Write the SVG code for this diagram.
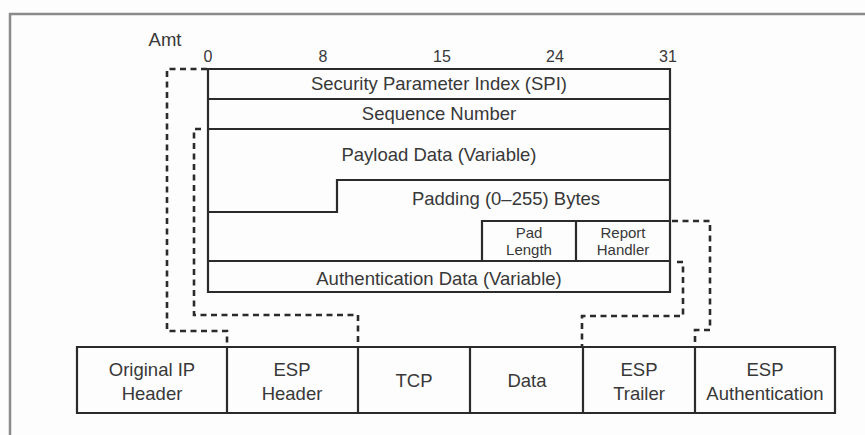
<svg xmlns="http://www.w3.org/2000/svg" width="865" height="435" viewBox="0 0 865 435">
<style>
.ln{fill:none;stroke:#2b2b2b;stroke-width:2.2}
.fr{fill:none;stroke:#8a8a8a;stroke-width:2.5}
.dash{fill:none;stroke:#2b2b2b;stroke-width:2.6;stroke-dasharray:6 4.5}
text{font-family:"Liberation Sans",Arial,sans-serif;fill:#383838;text-anchor:middle}
.t{font-size:18.5px}
.s{font-size:15px}
.n{font-size:16px}
</style>
<rect width="865" height="435" fill="#fdfdfd"/>
<path class="fr" d="M10,435 V14 H865"/>
<g id="ruler">
<text class="t" x="165" y="46">Amt</text>
<text class="n" x="208" y="62">0</text>
<text class="n" x="323" y="62">8</text>
<text class="n" x="442" y="62">15</text>
<text class="n" x="555" y="62">24</text>
<text class="n" x="668" y="62">31</text>
</g>
<g id="esp-format">
<path class="ln" d="M208,69 H670 V292 H208 Z M208,99 H670 M208,129 H670 M208,212 H337 V180 H670 M482,261 V221 H670 M576,221 V261 M208,261 H670"/>
<text class="t" x="439" y="90">Security Parameter Index (SPI)</text>
<text class="t" x="439" y="120">Sequence Number</text>
<text class="t" x="439" y="161">Payload Data (Variable)</text>
<text class="t" x="506" y="205">Padding (0–255) Bytes</text>
<text class="s" x="529" y="238">Pad</text>
<text class="s" x="529" y="255">Length</text>
<text class="s" x="623" y="238">Report</text>
<text class="s" x="623" y="255">Handler</text>
<text class="t" x="439" y="285">Authentication Data (Variable)</text>
</g>
<g id="connectors">
<path class="dash" d="M207,69 H167 V331 H227 V347"/>
<path class="dash" d="M201,129 H194 V315 H358 V347"/>
<path class="dash" d="M672,221 H710 V330 H695 V347"/>
<path class="dash" d="M677,262 H683 V316 H582 V347"/>
</g>
<g id="packet">
<path class="ln" d="M77,347 H835 V413 H77 Z M227,347 V413 M358,347 V413 M470,347 V413 M583,347 V413 M695,347 V413"/>
<text class="t" x="152" y="376">Original IP</text>
<text class="t" x="152" y="400">Header</text>
<text class="t" x="292" y="376">ESP</text>
<text class="t" x="292" y="400">Header</text>
<text class="t" x="414" y="387">TCP</text>
<text class="t" x="527" y="387">Data</text>
<text class="t" x="639" y="376">ESP</text>
<text class="t" x="639" y="400">Trailer</text>
<text class="t" x="765" y="376">ESP</text>
<text class="t" x="765" y="400">Authentication</text>
</g>
</svg>
